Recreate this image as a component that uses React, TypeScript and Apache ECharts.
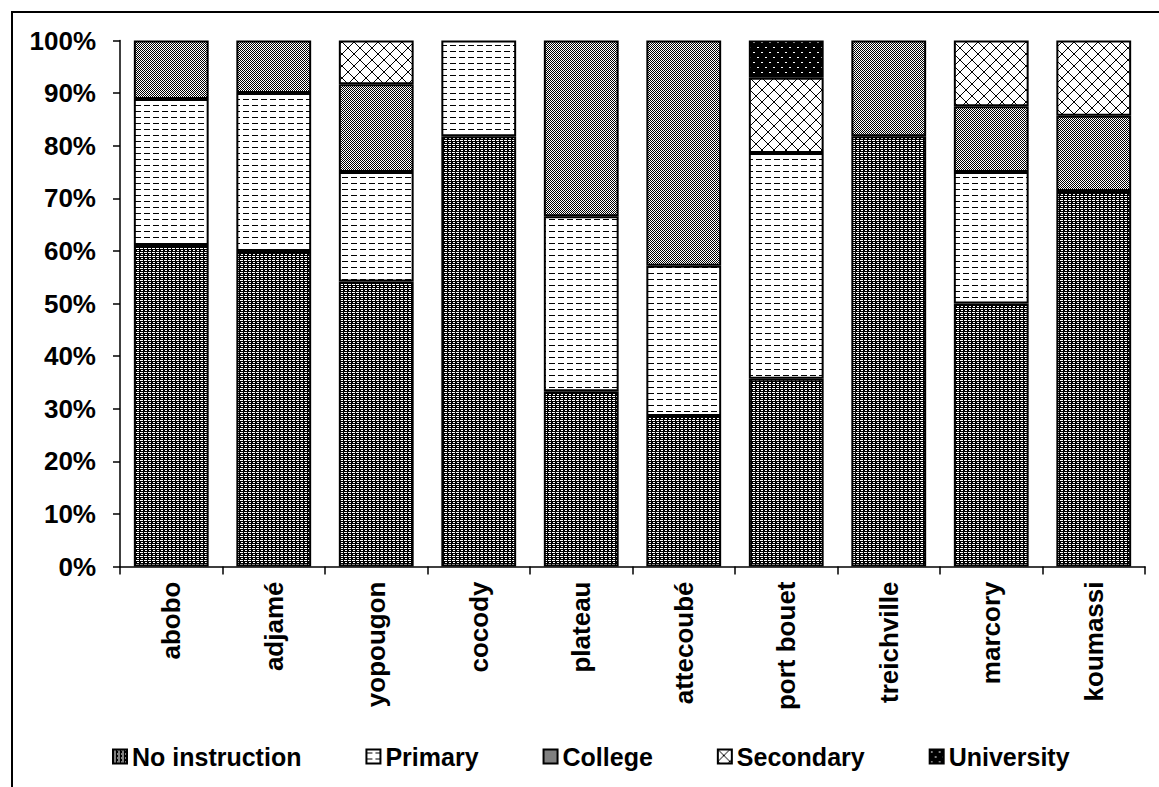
import React, { useEffect, useRef } from "react";
import * as echarts from "echarts";

const categories = ["abobo", "adjamé", "yopougon", "cocody", "plateau", "attecoubé", "port bouet", "treichville", "marcory", "koumassi"];
const noInstruction = [61.1, 60.0, 54.2, 81.8, 33.3, 28.6, 35.7, 81.8, 50.0, 71.4];
const primary = [27.8, 30.0, 20.8, 18.2, 33.3, 28.6, 42.9, 0, 25.0, 0];
const college = [11.1, 10.0, 16.7, 0, 33.4, 42.8, 0, 18.2, 12.5, 14.3];
const secondary = [0, 0, 8.3, 0, 0, 0, 14.3, 0, 12.5, 14.3];
const university = [0, 0, 0, 0, 0, 0, 7.1, 0, 0, 0];
const seriesNames = ["No instruction", "Primary", "College", "Secondary", "University"];
const yTicks = [0, 10, 20, 30, 40, 50, 60, 70, 80, 90, 100];

function makeTile(w: number, h: number, bg: string, fg: string, pts: (x: number, y: number) => boolean) {
  const c = document.createElement("canvas");
  c.width = w;
  c.height = h;
  const ctx = c.getContext("2d")!;
  ctx.fillStyle = bg;
  ctx.fillRect(0, 0, w, h);
  ctx.fillStyle = fg;
  for (let y = 0; y < h; y++) for (let x = 0; x < w; x++) if (pts(x, y)) ctx.fillRect(x, y, 1, 1);
  return { image: c as any, repeat: "repeat" as const };
}

export default function App() {
  const ref = useRef<HTMLDivElement>(null);
  useEffect(() => {
    if (!ref.current) return;
    const chart = echarts.init(ref.current, null, { renderer: "svg" });
    const pNo = makeTile(4, 4, "#000", "#fff", (x, y) => (y === 0 && x !== 3) || (y === 2 && (x === 1 || x === 2)));
    const pPrim = makeTile(9, 6, "#fff", "#000", (x, y) => (y === 3 && x < 6));
    const pCol = makeTile(2, 2, "#fff", "#000", (x, y) => (x + y) % 2 === 0);
    const pSec = makeTile(12, 12, "#fff", "#000", (x, y) => x === y || x === 11 - y);
    const pUni = makeTile(8, 10, "#000", "#fff", (x, y) => (y === 2 && (x === 1 || x === 2)) || (y === 7 && (x === 5 || x === 6)));
    const patterns = [pNo, pPrim, pCol, pSec, pUni];
    const datas = [noInstruction, primary, college, secondary, university];
    const font = "'Liberation Sans', Arial, sans-serif";
    chart.setOption({
      animation: false,
      backgroundColor: "#fff",
      grid: { left: 120, right: 14, top: 40.5, bottom: 220.5, containLabel: false },
      legend: {
        left: 107,
        top: 739,
        itemWidth: 14,
        itemHeight: 14,
        itemGap: 64,
        icon: "rect",
        textStyle: { fontFamily: font, fontWeight: "bold", fontSize: 25, color: "#000" },
        data: seriesNames,
      },
      xAxis: {
        type: "category",
        data: categories,
        axisLine: { lineStyle: { color: "#000", width: 1.5 } },
        axisTick: { show: true, length: 8, lineStyle: { color: "#000", width: 1.5 } },
        axisLabel: { rotate: 90, margin: 15, fontFamily: font, fontWeight: "bold", fontSize: 26, color: "#000" },
      },
      yAxis: {
        type: "value",
        min: yTicks[0],
        max: yTicks[yTicks.length - 1],
        interval: 10,
        splitLine: { show: false },
        axisLine: { show: true, lineStyle: { color: "#000", width: 1.5 } },
        axisTick: { show: true, length: 7, lineStyle: { color: "#000", width: 1.5 } },
        axisLabel: { formatter: "{value}%", margin: 24, fontFamily: font, fontWeight: "bold", fontSize: 26, color: "#000" },
      },
      graphic: [
        { type: "rect", shape: { x: 12, y: 12, width: 1300, height: 900 }, style: { fill: "none", stroke: "#000", lineWidth: 2 }, silent: true },
      ],
      series: seriesNames.map((name, i) => ({
        name,
        type: "bar",
        stack: "total",
        barCategoryGap: "27%",
        data: datas[i].map((v) => (v === 0 ? "-" : v)),
        itemStyle: { color: patterns[i], borderColor: "#000", borderWidth: 2 },
      })),
    });
    return () => chart.dispose();
  }, []);
  return <div ref={ref} style={{ position: "fixed", left: 0, top: 0, width: 1159, height: 787 }} />;
}
